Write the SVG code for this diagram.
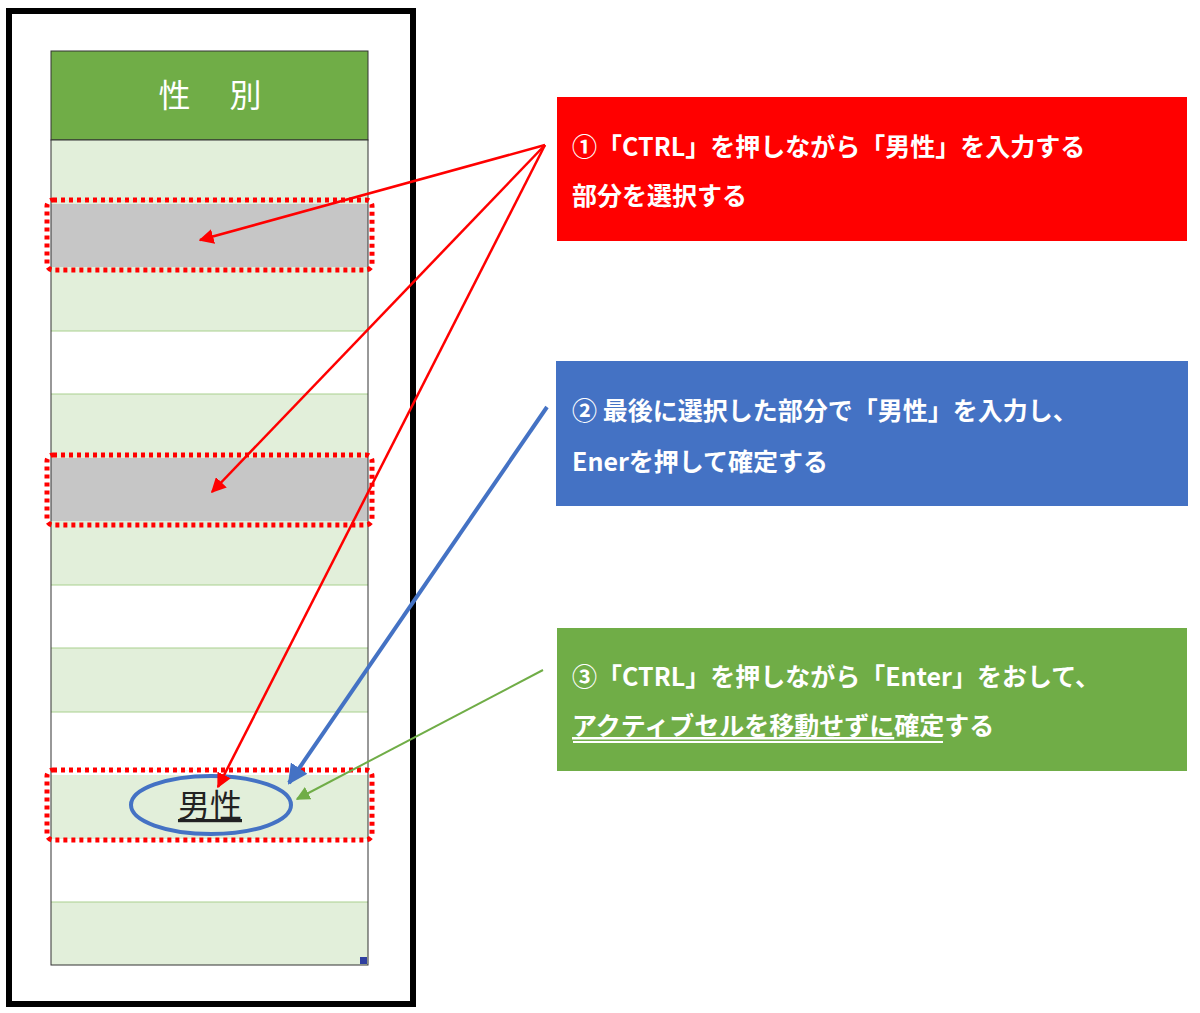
<svg xmlns="http://www.w3.org/2000/svg" width="1200" height="1013" viewBox="0 0 1200 1013">
<defs>
<style>
.g{fill:#e2efda}.w{fill:#fff}.gr{fill:#c6c6c6}
.sel{fill:none;stroke:#ff0000;stroke-width:5;stroke-dasharray:4 4}
.bt{font-family:"Noto Sans CJK JP","Noto Sans",sans-serif;font-weight:bold;font-size:25px;fill:#fff}
.sep{stroke:#a9d08e;stroke-width:1}
</style>
<marker id="ar" viewBox="0 0 10 10" refX="9" refY="5" markerWidth="6" markerHeight="6" orient="auto"><path d="M0,0L10,5L0,10z" fill="#ff0000"/></marker>
<marker id="ab" viewBox="0 0 10 10" refX="9" refY="5" markerWidth="5" markerHeight="5" orient="auto"><path d="M0,0L10,5L0,10z" fill="#4472c4"/></marker>
<marker id="ag" viewBox="0 0 10 10" refX="9" refY="5" markerWidth="7" markerHeight="7" orient="auto"><path d="M0,0L10,5L0,10z" fill="#70ad47"/></marker>
</defs>
<rect width="1200" height="1013" fill="#fff"/>
<g id="frame"><rect x="9" y="11" width="404" height="993" fill="#fff" stroke="#000" stroke-width="6"/></g>
<g id="table">
<rect x="51" y="51" width="317" height="89" fill="#70ad47" stroke="#333" stroke-width="1"/>
<text x="210" y="107" text-anchor="middle" font-family="Noto Sans CJK JP,sans-serif" font-size="32" fill="#fff" xml:space="preserve">性　 別</text>
<rect class="g" x="51" y="140" width="317" height="64"/>
<rect class="gr" x="51" y="204" width="317" height="63"/>
<rect class="g" x="51" y="267" width="317" height="64"/>
<rect class="w" x="51" y="331" width="317" height="63"/>
<rect class="g" x="51" y="394" width="317" height="64"/>
<rect class="gr" x="51" y="458" width="317" height="63"/>
<rect class="g" x="51" y="521" width="317" height="64"/>
<rect class="w" x="51" y="585" width="317" height="63"/>
<rect class="g" x="51" y="648" width="317" height="64"/>
<rect class="w" x="51" y="712" width="317" height="63"/>
<rect class="g" x="51" y="775" width="317" height="64"/>
<rect class="w" x="51" y="839" width="317" height="63"/>
<rect class="g" x="51" y="902" width="317" height="63"/>
<g class="sep"><line x1="51" y1="331" x2="368" y2="331"/><line x1="51" y1="394" x2="368" y2="394"/><line x1="51" y1="585" x2="368" y2="585"/><line x1="51" y1="648" x2="368" y2="648"/><line x1="51" y1="712" x2="368" y2="712"/><line x1="51" y1="902" x2="368" y2="902"/></g>
<rect x="51" y="140" width="317" height="825" fill="none" stroke="#333" stroke-width="1"/>
<rect x="360" y="957" width="7" height="7" fill="#2f3fa0"/>
</g>
<g id="selections">
<rect class="sel" x="47" y="200" width="325" height="70" rx="6"/>
<rect class="sel" x="47" y="455" width="325" height="70" rx="6"/>
<rect class="sel" x="47" y="770" width="325" height="70" rx="6"/>
</g>
<g id="cell-male">
<text x="210" y="817" text-anchor="middle" font-family="Noto Sans CJK JP,sans-serif" font-size="32" fill="#222" text-decoration="underline">男性</text>
<line x1="178" y1="820" x2="242" y2="820" stroke="#222" stroke-width="1.5"/>
<ellipse cx="211" cy="805" rx="80" ry="29" fill="none" stroke="#4472c4" stroke-width="4"/>
</g>
<g id="box1"><rect x="557" y="97" width="630" height="144" fill="#ff0000"/>
<text class="bt" x="572" y="156">①「CTRL」を押しながら「男性」を入力する</text>
<text class="bt" x="572" y="205">部分を選択する</text></g>
<g id="box2"><rect x="556" y="361" width="632" height="145" fill="#4472c4"/>
<text class="bt" x="572" y="420">② 最後に選択した部分で「男性」を入力し、</text>
<text class="bt" x="572" y="471">Enerを押して確定する</text></g>
<g id="box3"><rect x="557" y="628" width="630" height="143" fill="#70ad47"/>
<text class="bt" x="572" y="686">③「CTRL」を押しながら「Enter」をおして、</text>
<text class="bt" x="572" y="735"><tspan text-decoration="underline">アクティブセルを移動せずに</tspan>確定する</text>
<line x1="573" y1="742" x2="943" y2="742" stroke="#fff" stroke-width="2"/></g>
<g id="connectors" fill="none">
<line x1="545" y1="145" x2="200" y2="240" stroke="#ff0000" stroke-width="2.5" marker-end="url(#ar)"/>
<line x1="545" y1="145" x2="212" y2="492" stroke="#ff0000" stroke-width="2.5" marker-end="url(#ar)"/>
<line x1="545" y1="145" x2="218" y2="787" stroke="#ff0000" stroke-width="2.5" marker-end="url(#ar)"/>
<line x1="547" y1="407" x2="289" y2="783" stroke="#4472c4" stroke-width="4" marker-end="url(#ab)"/>
<line x1="543" y1="670" x2="297" y2="799" stroke="#70ad47" stroke-width="2" marker-end="url(#ag)"/>
</g>
</svg>
